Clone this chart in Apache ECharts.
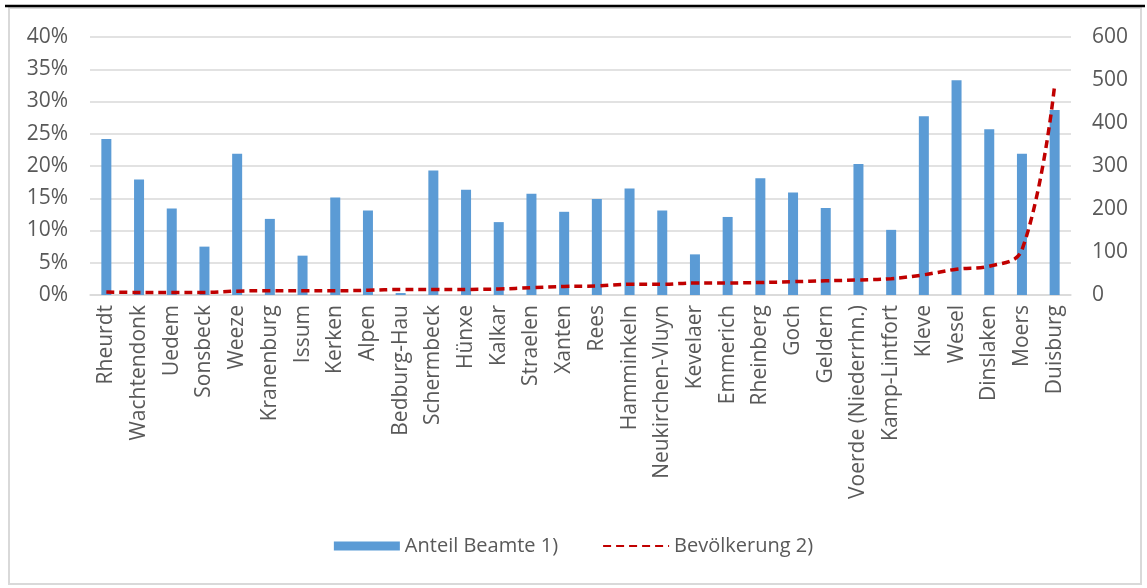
<!DOCTYPE html>
<html><head><meta charset="utf-8">
<script src="https://cdn.jsdelivr.net/npm/echarts@6/dist/echarts.min.js"></script>
<style>html,body{margin:0;padding:0;background:#fff}#c{width:1147px;height:588px}</style>
</head><body><div id="c"></div>
<script>
const categories = ["Rheurdt","Wachtendonk","Uedem","Sonsbeck","Weeze","Kranenburg","Issum","Kerken","Alpen","Bedburg-Hau","Schermbeck","Hünxe","Kalkar","Straelen","Xanten","Rees","Hamminkeln","Neukirchen-Vluyn","Kevelaer","Emmerich","Rheinberg","Goch","Geldern","Voerde (Niederrhn.)","Kamp-Lintfort","Kleve","Wesel","Dinslaken","Moers","Duisburg"];
const anteilBeamte = [24.2,17.9,13.4,7.5,21.9,11.8,6.1,15.1,13.1,0.3,19.3,16.3,11.3,15.7,12.9,14.9,16.5,13.1,6.3,12.1,18.1,15.9,13.5,20.3,10.1,27.7,33.3,25.7,21.9,28.7];
const bevoelkerung = [7,6,6,6,9,10,10,10,11,13,13,13,14,17,20,21,25,25,28,28,29,31,33,35,38,47,60,67,105,488];
const leftTicks = {min:0, max:40, interval:5};
const rightTicks = {min:0, max:600, interval:100};
const seriesNames = ["Anteil Beamte 1)", "Bevölkerung 2)"];

const FONT = "Open Sans";
const GREY = "#595959";
const chart = echarts.init(document.getElementById('c'), null, {renderer:'canvas'});
chart.setOption({
  backgroundColor:'#fff',
  animation:false,
  textStyle:{fontFamily:FONT},
  graphic:[
    {type:'rect', shape:{x:9,y:8,width:1132,height:576}, style:{fill:'none', stroke:'#d9d9d9', lineWidth:2}, silent:true},
    {type:'line', shape:{x1:5,y1:6,x2:1145,y2:6}, style:{stroke:'#000', lineWidth:2.5}, silent:true}
  ],
  grid:{left:90, right:76, top:37, bottom:293, containLabel:false},
  legend:{
    bottom:27, left:'center', itemGap:44, itemWidth:66, itemHeight:9,
    textStyle:{fontFamily:FONT, fontSize:20, color:GREY},
    data:[
      {name:seriesNames[0], icon:'rect'},
      {name:seriesNames[1], itemStyle:{opacity:0}}
    ]
  },
  xAxis:{
    type:'category', data:categories,
    axisLine:{lineStyle:{color:'#d9d9d9', width:1.5}},
    axisTick:{show:false},
    axisLabel:{rotate:90, interval:0, color:GREY, fontFamily:FONT, fontSize:21, margin:10}
  },
  yAxis:[
    {type:'value', min:leftTicks.min, max:leftTicks.max, interval:leftTicks.interval,
     axisLabel:{formatter:'{value}%', color:GREY, fontFamily:FONT, fontSize:21, margin:22},
     axisLine:{show:false}, axisTick:{show:false},
     splitLine:{lineStyle:{color:'#d9d9d9', width:1.5}}},
    {type:'value', min:rightTicks.min, max:rightTicks.max, interval:rightTicks.interval,
     axisLabel:{color:GREY, fontFamily:FONT, fontSize:21, margin:21},
     axisLine:{show:false}, axisTick:{show:false}, splitLine:{show:false}}
  ],
  series:[
    {name:seriesNames[0], type:'bar', data:anteilBeamte, barWidth:10, itemStyle:{color:'#5B9BD5'}, yAxisIndex:0},
    {name:seriesNames[1], type:'line', data:bevoelkerung, yAxisIndex:1, smooth:0.4, symbol:'none',
     lineStyle:{color:'#C00000', width:3.5, type:[8,5]}, itemStyle:{color:'#C00000'}}
  ]
});
</script></body></html>
